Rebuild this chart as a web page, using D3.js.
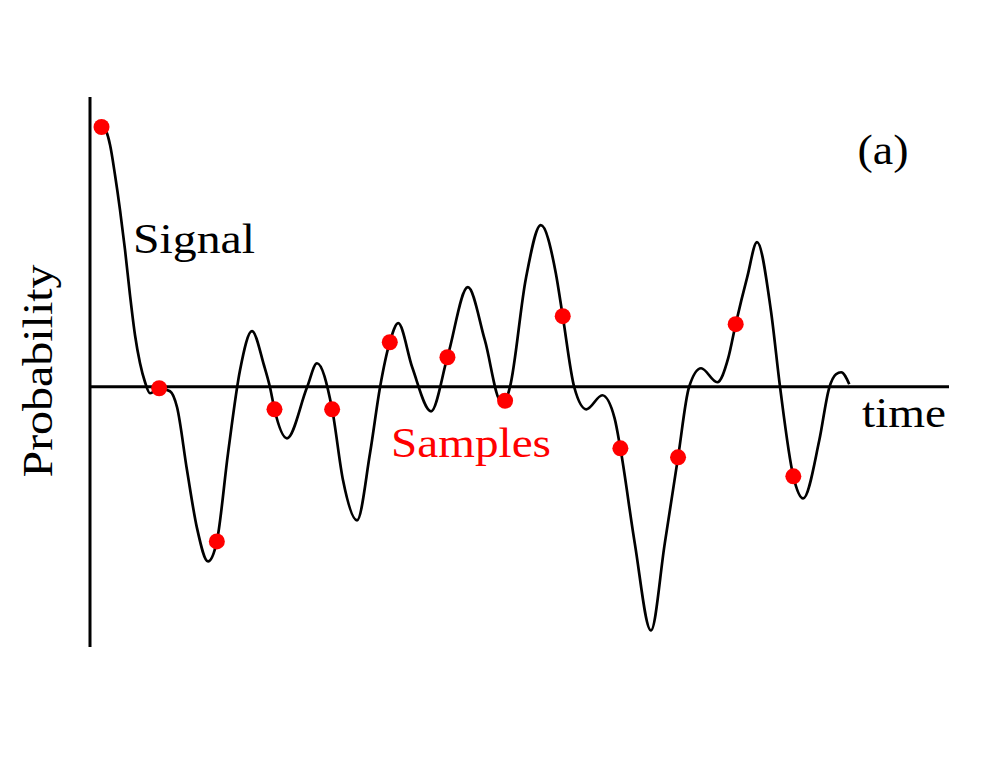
<!DOCTYPE html>
<html>
<head>
<meta charset="utf-8">
<script src="https://cdn.jsdelivr.net/npm/d3@7"></script>
<style>
  html, body { margin: 0; padding: 0; background: #fff; }
  svg { display: block; }
</style>
</head>
<body>
<svg id="chart" width="990" height="765"></svg>
<script>
// ---- data ----
const signalTime = [0, 0.078, 0.148, 0.234, 0.321, 0.408, 0.494, 0.581, 0.668, 0.755, 0.841, 1.0, 1.188, 1.31, 1.483, 1.657, 1.847,
  2.0, 2.194, 2.402, 2.61, 2.818, 2.922, 3.0, 3.217, 3.565, 3.738, 4.0, 4.189, 4.432, 4.657, 4.831,
  5.0, 5.146, 5.389, 5.716, 6.0, 6.354, 6.649, 6.93, 7.0, 7.085, 7.36, 7.62, 7.88, 8.0, 8.2, 8.41,
  8.686, 8.9, 9.0, 9.25, 9.53, 9.77, 10.0, 10.19, 10.4, 10.68, 10.87, 11.0, 11.2, 11.37, 11.61, 11.77,
  12.0, 12.17, 12.45, 12.62, 12.74, 12.83, 12.97];
const signalValue = [2.595, 2.555, 2.415, 2.115, 1.765, 1.365, 0.915, 0.515, 0.235, 0.045, -0.065, -0.015, -0.045, -0.205, -0.835, -1.415, -1.745,
  -1.545, -0.665, 0.165, 0.555, 0.215, -0.005, -0.225, -0.515, -0.005, 0.235, -0.225, -0.935, -1.335, -0.665, -0.005,
  0.445, 0.635, 0.195, -0.245, 0.295, 0.995, 0.465, -0.145, -0.14, 0.0, 1.08, 1.615, 1.135, 0.705, -0.005, -0.225,
  -0.085, -0.315, -0.615, -1.565, -2.435, -1.565, -0.705, -0.005, 0.185, 0.045, 0.285, 0.625, 1.095, 1.445, 0.765, -0.005,
  -0.895, -1.115, -0.535, -0.015, 0.125, 0.145, 0.025];
const sampleTime = [0, 1, 2, 3, 4, 5, 6, 7, 8, 9, 10, 11, 12];
const sampleValue = [2.595, -0.015, -1.545, -0.225, -0.225, 0.445, 0.295, -0.14, 0.705, -0.615, -0.705, 0.625, -0.895];
const labels = { y: "Probability", x: "time", signal: "Signal", samples: "Samples", panel: "(a)" };

// ---- scales ----
const svg = d3.select("#chart");
const x = d3.scaleLinear().domain([-0.2, 14.7]).range([90, 949]);
const y = d3.scaleLinear().domain([-2.6, 2.895]).range([647, 97]);
const serif = "'Liberation Serif', 'Times New Roman', 'DejaVu Serif', serif";

// axes as plain lines
svg.append("line").attr("x1", x(-0.2)).attr("x2", x(-0.2)).attr("y1", y(2.895)).attr("y2", y(-2.6))
  .attr("stroke", "#000").attr("stroke-width", 3);
svg.append("line").attr("x1", x(-0.2)).attr("x2", x(14.7)).attr("y1", y(0)).attr("y2", y(0))
  .attr("stroke", "#000").attr("stroke-width", 3);

// signal
const pts = signalTime.map((t, i) => [t, signalValue[i]]);
const line = d3.line().x(d => x(d[0])).y(d => y(d[1])).curve(d3.curveMonotoneX);
svg.append("path").attr("d", line(pts)).attr("fill", "none").attr("stroke", "#000").attr("stroke-width", 2.7);

// samples
svg.selectAll("circle.s").data(sampleTime.map((t, i) => [t, sampleValue[i]])).enter()
  .append("circle").attr("class", "s")
  .attr("cx", d => x(d[0])).attr("cy", d => y(d[1])).attr("r", 8).attr("fill", "#ff0000");

// texts
const fs = 43;
function txt(xp, yp, s, col, len, anchor) {
  return svg.append("text").attr("x", xp).attr("y", yp).attr("font-size", fs)
    .attr("font-family", serif).attr("fill", col).attr("text-anchor", anchor || "start")
    .attr("textLength", len).attr("lengthAdjust", "spacingAndGlyphs").text(s);
}
txt(133, 253, labels.signal, "#000", 122);
txt(391, 457, labels.samples, "#ff0000", 160);
txt(883, 164, labels.panel, "#000", 51, "middle");
txt(904, 427, labels.x, "#000", 84, "middle");
txt(0, 0, labels.y, "#000", 213, "middle").attr("transform", "translate(52,371) rotate(-90)");
</script>
</body>
</html>
